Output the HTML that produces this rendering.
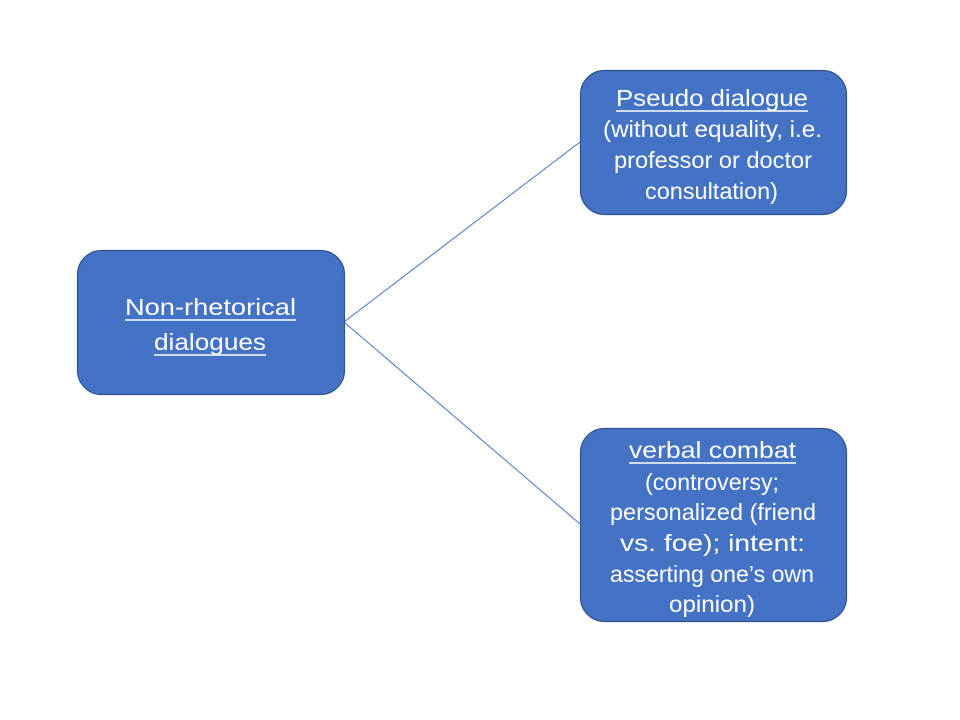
<!DOCTYPE html>
<html><head><meta charset="utf-8"><style>html,body{margin:0;padding:0;background:#fff;}svg{display:block}</style></head>
<body>
<svg width="960" height="720" xmlns="http://www.w3.org/2000/svg" font-family="Liberation Sans, sans-serif" fill="#fff">
<line x1="344" y1="322" x2="580" y2="142" stroke="#4472C4" stroke-width="1"/>
<line x1="344" y1="322" x2="580" y2="524" stroke="#4472C4" stroke-width="1"/>
<rect x="77.5" y="250.5" width="267" height="144" rx="24" fill="#4472C4" stroke="#2F528F" stroke-width="1.2"/>
<rect x="580.5" y="70.5" width="266" height="144" rx="24" fill="#4472C4" stroke="#2F528F" stroke-width="1.2"/>
<rect x="580.5" y="428.5" width="266" height="193" rx="24" fill="#4472C4" stroke="#2F528F" stroke-width="1.2"/>
<g font-size="23" text-anchor="middle">
<text x="210.5" y="315" textLength="171" lengthAdjust="spacingAndGlyphs">Non-rhetorical</text>
<text x="210" y="350" textLength="112" lengthAdjust="spacingAndGlyphs">dialogues</text>
<line x1="125" y1="320" x2="296" y2="320" stroke="#fff" stroke-width="1.5"/>
<line x1="154" y1="355" x2="266" y2="355" stroke="#fff" stroke-width="1.5"/>
<text x="712" y="106" textLength="192" lengthAdjust="spacingAndGlyphs">Pseudo dialogue</text>
<line x1="616" y1="111" x2="808" y2="111" stroke="#fff" stroke-width="1.5"/>
<text x="712.5" y="137" textLength="219" lengthAdjust="spacingAndGlyphs">(without equality, i.e.</text>
<text x="713" y="168" textLength="198" lengthAdjust="spacingAndGlyphs">professor or doctor</text>
<text x="711.5" y="199" textLength="133" lengthAdjust="spacingAndGlyphs">consultation)</text>
<text x="712.5" y="458" textLength="167" lengthAdjust="spacingAndGlyphs">verbal combat</text>
<line x1="629" y1="463" x2="796" y2="463" stroke="#fff" stroke-width="1.5"/>
<text x="712" y="490" textLength="134" lengthAdjust="spacingAndGlyphs">(controversy;</text>
<text x="713" y="520" textLength="206" lengthAdjust="spacingAndGlyphs">personalized (friend</text>
<text x="712.5" y="551" textLength="185" lengthAdjust="spacingAndGlyphs">vs. foe); intent:</text>
<text x="712" y="582" textLength="204" lengthAdjust="spacingAndGlyphs">asserting one’s own</text>
<text x="712" y="612" textLength="86" lengthAdjust="spacingAndGlyphs">opinion)</text>
</g>
</svg>
</body></html>
